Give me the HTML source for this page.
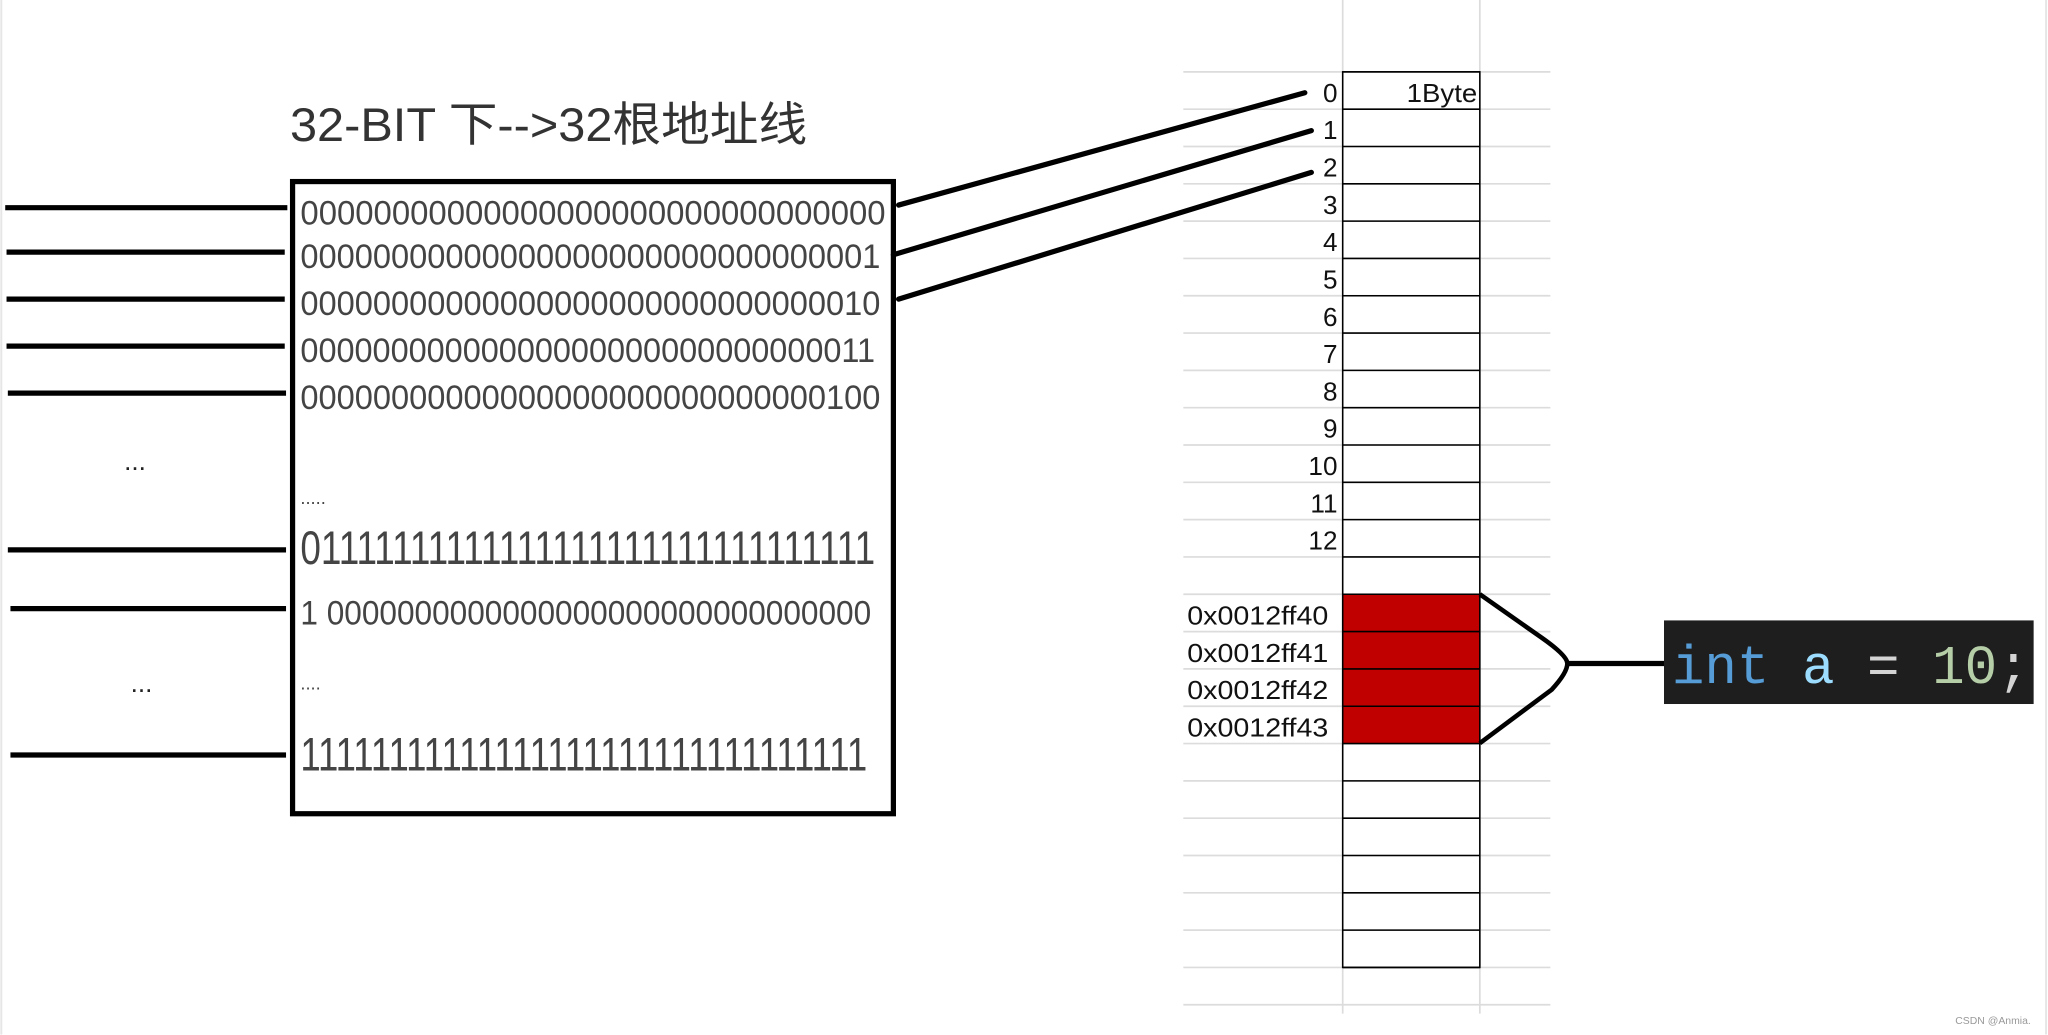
<!DOCTYPE html>
<html><head><meta charset="utf-8"><style>
html,body{margin:0;padding:0;background:#fff;overflow:hidden}
svg{display:block}
text{font-family:"Liberation Sans","Noto Sans CJK SC",sans-serif}
</style></head><body>
<svg width="2048" height="1035" viewBox="0 0 1568 792.4" xmlns="http://www.w3.org/2000/svg">
<rect width="1568" height="792.4" fill="#fff"/>
<line x1="1" y1="0" x2="1" y2="792" stroke="#e6e6e6" stroke-width="1.5"/>
<line x1="1566.5" y1="0" x2="1566.5" y2="792" stroke="#e6e6e6" stroke-width="1.5"/>
<!-- grid -->
<g stroke="#dcdcdc" stroke-width="1.3">
<line x1="1028" y1="0" x2="1028" y2="776"/>
<line x1="1133" y1="0" x2="1133" y2="776"/>
</g>
<g id="g" stroke="#dcdcdc" stroke-width="1.3"></g>
<!-- red -->
<rect x="1028" y="455" width="105" height="114.3" fill="#c00000"/>
<g id="b" stroke="#000" stroke-width="1.2" fill="none"></g>
<!-- title -->
<text x="222" y="108" font-size="36" fill="#333" textLength="396" lengthAdjust="spacingAndGlyphs">32-BIT 下--&gt;32根地址线</text>
<!-- box -->
<rect x="224" y="139" width="460" height="484" fill="none" stroke="#000" stroke-width="4"/>
<g fill="#444" font-size="26" lengthAdjust="spacingAndGlyphs">
<text x="230" y="172" textLength="448" lengthAdjust="spacingAndGlyphs">00000000000000000000000000000000</text>
<text x="230" y="205" textLength="444" lengthAdjust="spacingAndGlyphs">00000000000000000000000000000001</text>
<text x="230" y="241" textLength="444" lengthAdjust="spacingAndGlyphs">00000000000000000000000000000010</text>
<text x="230" y="277" textLength="440" lengthAdjust="spacingAndGlyphs">00000000000000000000000000000011</text>
<text x="230" y="313" textLength="444" lengthAdjust="spacingAndGlyphs">00000000000000000000000000000100</text>
<text x="230" y="386" font-size="14">.....</text>
<text x="230" y="432" font-size="36" textLength="440" lengthAdjust="spacingAndGlyphs">01111111111111111111111111111111</text>
<text x="230" y="478" textLength="437" lengthAdjust="spacingAndGlyphs">1 0000000000000000000000000000000</text>
<text x="230" y="528" font-size="14">....</text>
<text x="230" y="590" font-size="36" textLength="434" lengthAdjust="spacingAndGlyphs">11111111111111111111111111111111</text>
</g>
<text x="95" y="360" font-size="20" fill="#222">...</text>
<text x="100" y="530" font-size="20" fill="#222">...</text>
<!-- left lines -->
<g stroke="#000" stroke-width="4">
<line x1="4" y1="159" x2="220" y2="159"/>
<line x1="5" y1="193" x2="218" y2="193"/>
<line x1="5" y1="229" x2="218" y2="229"/>
<line x1="5" y1="265" x2="218" y2="265"/>
<line x1="6" y1="301" x2="219" y2="301"/>
<line x1="6" y1="421" x2="219" y2="421"/>
<line x1="8" y1="466" x2="219" y2="466"/>
<line x1="8" y1="578" x2="219" y2="578"/>
</g>
<g stroke="#000" stroke-width="4" stroke-linecap="round">
<line x1="688" y1="157" x2="999" y2="71"/>
<line x1="684" y1="195" x2="1004" y2="100"/>
<line x1="688" y1="229" x2="1004" y2="132"/>
</g>
<!-- labels -->
<g font-size="20" fill="#111" text-anchor="end" id="n"></g>
<text x="1131" y="78" font-size="20" fill="#111" text-anchor="end" textLength="54" lengthAdjust="spacingAndGlyphs">1Byte</text>
<g font-size="20" fill="#111">
<text x="909" y="478" textLength="108" lengthAdjust="spacingAndGlyphs">0x0012ff40</text>
<text x="909" y="507" textLength="108" lengthAdjust="spacingAndGlyphs">0x0012ff41</text>
<text x="909" y="535" textLength="108" lengthAdjust="spacingAndGlyphs">0x0012ff42</text>
<text x="909" y="564" textLength="108" lengthAdjust="spacingAndGlyphs">0x0012ff43</text>
</g>
<!-- bracket -->
<path d="M1133 455 L1180 488 Q1200 502 1200 508 Q1200 515 1188 528 L1133 569" fill="none" stroke="#000" stroke-width="3.5"/>
<line x1="1200" y1="508" x2="1280" y2="508" stroke="#000" stroke-width="4"/>
<rect x="1274" y="475" width="283" height="64" fill="#1e1e1e"/>
<text x="1280" y="523" font-size="42" style="font-family:'Liberation Mono',monospace" textLength="274" lengthAdjust="spacingAndGlyphs"><tspan fill="#569cd6">int</tspan><tspan fill="#9cdcfe"> a</tspan><tspan fill="#d4d4d4"> = </tspan><tspan fill="#b5cea8">10</tspan><tspan fill="#d4d4d4">;</tspan></text>
<text x="1497" y="784" font-size="8" fill="#999">CSDN @Anmia.</text>
</svg>
<script>
var ns="http://www.w3.org/2000/svg",g=document.getElementById('g'),b=document.getElementById('b'),n=document.getElementById('n');
var h=28.57,t=55;
for(var k=0;k<=25;k++){var y=t+k*h;var l=document.createElementNS(ns,'line');l.setAttribute('x1',906);l.setAttribute('x2',1187);l.setAttribute('y1',y);l.setAttribute('y2',y);g.appendChild(l);
if(k<=24){var m=document.createElementNS(ns,'line');m.setAttribute('x1',1028);m.setAttribute('x2',1133);m.setAttribute('y1',y);m.setAttribute('y2',y);b.appendChild(m);}}
var r=document.createElementNS(ns,'rect');r.setAttribute('x',1028);r.setAttribute('y',t);r.setAttribute('width',105);r.setAttribute('height',24*h);b.appendChild(r);
for(var i=0;i<=12;i++){var tx=document.createElementNS(ns,'text');tx.setAttribute('x',1024);tx.setAttribute('y',t+i*h+23);tx.textContent=i;n.appendChild(tx);}
</script>
</body></html>
